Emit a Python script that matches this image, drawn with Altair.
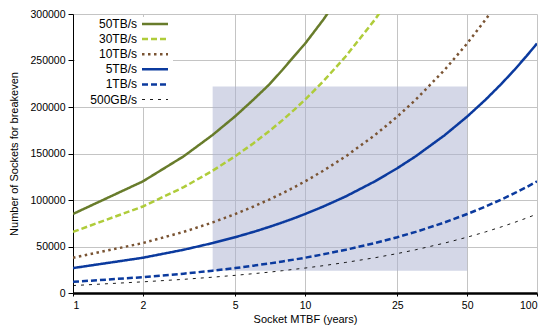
import altair as alt
import pandas as pd

# ---- data ----
series_names = ["50TB/s", "30TB/s", "10TB/s", "5TB/s", "1TB/s", "500GB/s"]
years = [1, 2, 3, 4, 5, 6, 7, 8, 9, 10, 12, 15, 20, 25, 30, 40, 50, 60, 70, 80, 90, 100]

s50 = [85000, 120000, 147000, 170000, 190000, 208000, 224000, 240000, 255000, 268000, 294000, 329000]
s30 = [65700, 93000, 113800, 131500, 147000, 161000, 173900, 185900, 197200, 207800, 227700, 254600, 293900, 328600]
s10 = [37900, 53700, 65700, 75900, 84900, 93000, 100400, 107300, 113800, 120000, 131500, 147000, 169700, 189700,
       207800, 240000, 268300, 293900, 317500]
s5 = [26800, 37900, 46500, 53700, 60000, 65700, 71000, 75900, 80500, 84900, 93000, 103900, 120000, 134200, 147000,
      169700, 189700, 207800, 224500, 240000, 254600, 268300]
s1 = [12000, 17000, 20800, 24000, 26800, 29400, 31700, 33900, 36000, 37900, 41600, 46500, 53700, 60000, 65700,
      75900, 84900, 93000, 100400, 107300, 113800, 120000]
s05 = [8000, 12000, 14700, 17000, 19000, 20800, 22400, 24000, 25500, 26800, 29400, 32900, 37900, 42400, 46500,
       53700, 60000, 65700, 71000, 75900, 80500, 84900]

region_x = [4, 50]
region_y = [24000, 222000]

x_ticks = [1, 2, 5, 10, 25, 50, 100]
y_ticks = [0, 50000, 100000, 150000, 200000, 250000, 300000]

# ---- styles ----
colors = ["#687C2B", "#AFCC3A", "#7A5433", "#0B3A9E", "#0B3A9E", "#000000"]
dashes = [[1, 0], [6, 3], [2.5, 3.5], [1, 0], [6, 3], [3, 5]]
widths = [2.5, 2.5, 2.5, 2.5, 2.5, 0.9]

rows = []
for name, vals in zip(series_names, [s50, s30, s10, s5, s1, s05]):
    for yr, v in zip(years, vals):
        rows.append({"series": name, "mtbf": yr, "sockets": v})
df = pd.DataFrame(rows)

region = pd.DataFrame({"x1": [region_x[0]], "x2": [region_x[1]], "y1": [region_y[0]], "y2": [region_y[1]]})
legend_df = pd.DataFrame({"series": series_names})

xscale = alt.Scale(type="log", domain=[1, 100], nice=False)
yscale = alt.Scale(domain=[0, 300000], nice=False, zero=True)
color_scale = alt.Scale(domain=series_names, range=colors)
dash_scale = alt.Scale(domain=series_names, range=dashes)
width_scale = alt.Scale(type="ordinal", domain=series_names, range=widths)

shade = alt.Chart(region).mark_rect(fill="#A9AFD0", opacity=0.5).encode(
    x=alt.X("x1:Q", scale=xscale,
            axis=alt.Axis(values=x_ticks, format="d", title="Socket MTBF (years)",
                          domainColor="#000000", domainWidth=2.5, tickColor="#000000", tickSize=3,
                          labelPadding=4, titleBaseline="alphabetic", titleY=29, titleFontWeight="normal",
                          gridColor="#C4C4C4", gridWidth=1)),
    x2="x2:Q",
    y=alt.Y("y1:Q", scale=yscale,
            axis=alt.Axis(values=y_ticks, format="d", title="Number of Sockets for breakeven",
                          domainColor="#000000", domainWidth=1, tickColor="#000000", tickSize=5,
                          labelPadding=3, titleBaseline="alphabetic", titleX=-56, titleY=139.5,
                          titleFontWeight="normal", gridColor="#C4C4C4", gridWidth=1)),
    y2="y2:Q",
)

# white backdrop of the legend box
legend_bg = alt.Chart(region).mark_rect(fill="white").encode(
    x=alt.value(2), x2=alt.value(100), y=alt.value(3), y2=alt.value(93)
)

lines = alt.Chart(df).mark_line(clip=True, strokeCap="butt").encode(
    x=alt.X("mtbf:Q", scale=xscale),
    y=alt.Y("sockets:Q", scale=yscale),
    color=alt.Color("series:N", scale=color_scale, legend=None),
    strokeDash=alt.StrokeDash("series:N", scale=dash_scale, legend=None),
    strokeWidth=alt.StrokeWidth("series:N", scale=width_scale, legend=None),
    order=alt.Order("mtbf:Q"),
)

main = alt.layer(shade, legend_bg, lines)

# legend: labels to the left of the line samples
leg_y = alt.Y("series:N", scale=alt.Scale(type="point", domain=series_names, range=[10, 85.5], padding=0),
              axis=None)
leg_sym = alt.Chart(legend_df).mark_rule(strokeCap="butt").encode(
    y=leg_y, x=alt.value(69), x2=alt.value(95),
    color=alt.Color("series:N", scale=color_scale, legend=None),
    strokeDash=alt.StrokeDash("series:N", scale=dash_scale, legend=None),
    strokeWidth=alt.StrokeWidth("series:N", scale=width_scale, legend=None),
)
leg_txt = alt.Chart(legend_df).mark_text(align="right", baseline="middle", fontSize=12,
                                         font="Liberation Sans", color="#000000").encode(
    y=leg_y, x=alt.value(64), text="series:N",
)
legend = alt.layer(leg_sym, leg_txt)

chart = alt.layer(main, legend).resolve_scale(y="independent").properties(
    width=464, height=279,
    autosize=alt.AutoSizeParams(type="none"),
    padding={"left": 73, "top": 14, "right": 8, "bottom": 34},
).configure(
    font="Liberation Sans",
).configure_axis(
    labelFontSize=10.5, titleFontSize=11, labelColor="#000000", titleColor="#000000",
).configure_view(stroke=None)

chart.save("out.html", embed_options={"renderer": "svg", "actions": False})
